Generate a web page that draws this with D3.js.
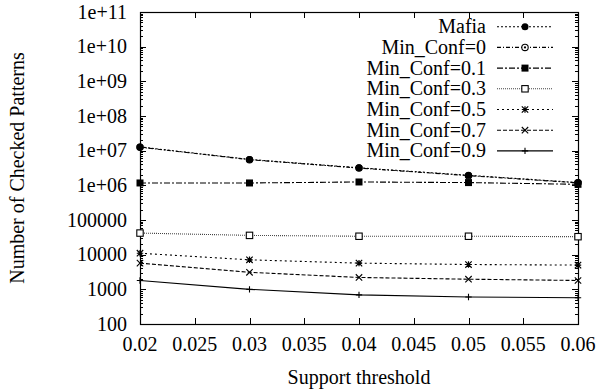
<!DOCTYPE html>
<html>
<head>
<meta charset="utf-8">
<script src="https://cdn.jsdelivr.net/npm/d3@7"></script>
<style>
  html, body { margin: 0; padding: 0; background: #fff; }
  svg text { font-family: "Liberation Serif", "Times New Roman", serif; fill: #000; }
</style>
</head>
<body>
<svg id="chart" width="599" height="391"></svg>
<script>
// Support thresholds on the x axis
const thresholds = [0.02, 0.03, 0.04, 0.05, 0.06];

// Number of checked patterns for each method
const mafia    = [1.28e7, 5.6e6, 3.2e6, 1.95e6, 1.2e6];
const conf0    = [1.26e7, 5.5e6, 3.15e6, 1.9e6, 1.18e6];
const conf01   = [1.17e6, 1.17e6, 1.25e6, 1.2e6, 1.07e6];
const conf03   = [4.2e4, 3.6e4, 3.4e4, 3.4e4, 3.3e4];
const conf05   = [1.1e4, 7.1e3, 5.7e3, 5.2e3, 5.0e3];
const conf07   = [5.7e3, 3.1e3, 2.2e3, 1.96e3, 1.8e3];
const conf09   = [1.8e3, 1.0e3, 690, 600, 570];

const seriesNames = ["Mafia", "Min_Conf=0", "Min_Conf=0.1", "Min_Conf=0.3",
                     "Min_Conf=0.5", "Min_Conf=0.7", "Min_Conf=0.9"];
const seriesValues = [mafia, conf0, conf01, conf03, conf05, conf07, conf09];

// Axis ticks and their labels
const xTicks = [0.02, 0.025, 0.03, 0.035, 0.04, 0.045, 0.05, 0.055, 0.06];
const xTickLabels = ["0.02", "0.025", "0.03", "0.035", "0.04", "0.045", "0.05", "0.055", "0.06"];
const yTicks = [1e2, 1e3, 1e4, 1e5, 1e6, 1e7, 1e8, 1e9, 1e10, 1e11];
const yTickLabels = ["100", "1000", "10000", "100000", "1e+06", "1e+07",
                     "1e+08", "1e+09", "1e+10", "1e+11"];

// Line dash and marker style per series
const dashes = ["2,2", "4,2,1,2", "6,2,2,2", "1,1", "2,3", "4,2", null];
const strokeColors = ["#000", "#000", "#000", "#444", "#000", "#000", "#000"];
const markers = ["dot", "ringdot", "square", "opensquare", "star", "cross", "plus"];

const svg = d3.select("#chart");
const plotLeft = 140, plotRight = 578, plotTop = 12, plotBottom = 324;

const x = d3.scaleLinear().domain([0.02, 0.06]).range([plotLeft, plotRight]);
const y = d3.scaleLog().domain([1e2, 1e11]).range([plotBottom, plotTop]);

// Minor log ticks (2..9 in each decade)
const minor = [];
for (let e = 2; e < 11; e++) for (let k = 2; k <= 9; k++) minor.push(k * Math.pow(10, e));

const tickG = svg.append("g").attr("stroke", "#000").attr("stroke-width", 1);
// y major / minor ticks on both sides, pointing inward
yTicks.forEach(v => {
  const yy = Math.round(y(v)) + 0.5;
  tickG.append("line").attr("x1", plotLeft).attr("x2", plotLeft + 6).attr("y1", yy).attr("y2", yy);
  tickG.append("line").attr("x1", plotRight).attr("x2", plotRight - 6).attr("y1", yy).attr("y2", yy);
});
minor.forEach(v => {
  const yy = Math.round(y(v)) + 0.5;
  tickG.append("line").attr("x1", plotLeft).attr("x2", plotLeft + 3).attr("y1", yy).attr("y2", yy);
  tickG.append("line").attr("x1", plotRight).attr("x2", plotRight - 3).attr("y1", yy).attr("y2", yy);
});
// x ticks on bottom and top
xTicks.forEach(v => {
  const xx = Math.round(x(v)) + 0.5;
  tickG.append("line").attr("x1", xx).attr("x2", xx).attr("y1", plotBottom).attr("y2", plotBottom - 6);
  tickG.append("line").attr("x1", xx).attr("x2", xx).attr("y1", plotTop).attr("y2", plotTop + 6);
});

// Frame
svg.append("rect")
  .attr("x", plotLeft + 0.5).attr("y", plotTop + 0.5)
  .attr("width", plotRight - plotLeft).attr("height", plotBottom - plotTop)
  .attr("fill", "none").attr("stroke", "#000").attr("stroke-width", 1.2);

// Tick labels
svg.append("g").selectAll("text").data(yTicks).join("text")
  .attr("x", 127).attr("y", d => y(d) + 6.5)
  .attr("text-anchor", "end").attr("font-size", 20)
  .text((d, i) => yTickLabels[i]);

svg.append("g").selectAll("text").data(xTicks).join("text")
  .attr("x", d => x(d)).attr("y", 351)
  .attr("text-anchor", "middle").attr("font-size", 20)
  .text((d, i) => xTickLabels[i]);

// Axis titles
svg.append("text")
  .attr("x", (plotLeft + plotRight) / 2).attr("y", 384)
  .attr("text-anchor", "middle").attr("font-size", 20)
  .text("Support threshold");

svg.append("text")
  .attr("transform", `translate(24,${(plotTop + plotBottom) / 2}) rotate(-90)`)
  .attr("text-anchor", "middle").attr("font-size", 20)
  .text("Number of Checked Patterns");

// Marker drawing
function drawMarker(g, type, cx, cy) {
  const s = 3.2;
  switch (type) {
    case "dot":
      g.append("circle").attr("cx", cx).attr("cy", cy).attr("r", 3.5).attr("fill", "#000");
      break;
    case "ringdot":
      g.append("circle").attr("cx", cx).attr("cy", cy).attr("r", 3.2)
        .attr("fill", "#fff").attr("stroke", "#000").attr("stroke-width", 1.1);
      g.append("circle").attr("cx", cx).attr("cy", cy).attr("r", 1.1).attr("fill", "#000");
      break;
    case "square":
      g.append("rect").attr("x", cx - 3.5).attr("y", cy - 3.5).attr("width", 7).attr("height", 7).attr("fill", "#000");
      break;
    case "opensquare":
      g.append("rect").attr("x", cx - 3.2).attr("y", cy - 3.2).attr("width", 6.4).attr("height", 6.4)
        .attr("fill", "#fff").attr("stroke", "#000").attr("stroke-width", 1.1);
      break;
    case "star":
      g.append("path").attr("d",
        `M${cx - s},${cy - s}L${cx + s},${cy + s}M${cx - s},${cy + s}L${cx + s},${cy - s}` +
        `M${cx - s},${cy}L${cx + s},${cy}M${cx},${cy - s}L${cx},${cy + s}`)
        .attr("stroke", "#000").attr("stroke-width", 1.2);
      break;
    case "cross":
      g.append("path").attr("d",
        `M${cx - s},${cy - s}L${cx + s},${cy + s}M${cx - s},${cy + s}L${cx + s},${cy - s}`)
        .attr("stroke", "#000").attr("stroke-width", 1.1);
      break;
    case "plus":
      g.append("path").attr("d",
        `M${cx - s},${cy}L${cx + s},${cy}M${cx},${cy - s}L${cx},${cy + s}`)
        .attr("stroke", "#000").attr("stroke-width", 1.1);
      break;
  }
}

const line = d3.line().x((d, i) => x(thresholds[i])).y(d => y(d));

// Series lines and markers, drawn bottom to top so Mafia lies over Min_Conf=0
const order = [6, 5, 4, 3, 2, 1, 0];
order.forEach(si => {
  const g = svg.append("g");
  g.append("path").datum(seriesValues[si])
    .attr("d", line).attr("fill", "none")
    .attr("stroke", strokeColors[si]).attr("stroke-width", 1.1)
    .attr("stroke-dasharray", dashes[si]);
  seriesValues[si].forEach((v, i) => drawMarker(g, markers[si], x(thresholds[i]), y(v)));
});

// Legend
const legendTop = 26.7, legendStep = 20.7;
seriesNames.forEach((name, si) => {
  const cy = legendTop + si * legendStep;
  const g = svg.append("g");
  g.append("text").attr("x", 486).attr("y", cy + 6.5)
    .attr("text-anchor", "end").attr("font-size", 20).text(name);
  g.append("line").attr("x1", 497).attr("x2", 553).attr("y1", cy).attr("y2", cy)
    .attr("stroke", strokeColors[si]).attr("stroke-width", 1.1)
    .attr("stroke-dasharray", dashes[si]);
  drawMarker(g, markers[si], 525, cy);
});
</script>
</body>
</html>
